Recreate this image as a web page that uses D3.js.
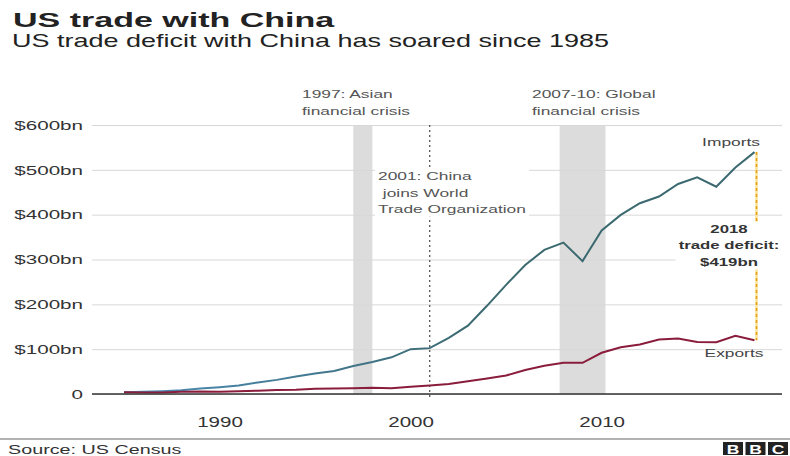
<!DOCTYPE html>
<html>
<head>
<meta charset="utf-8">
<script src="https://cdn.jsdelivr.net/npm/d3@7"></script>
<style>
  body { margin: 0; background: #fff; }
  text { font-family: "Liberation Sans", Arial, Helvetica, sans-serif; }
</style>
</head>
<body>
<script>
// US goods trade with China, $bn (US Census)
var years = d3.range(1985, 2019);
var imports = [3.9, 4.8, 6.3, 8.5, 12.0, 15.2, 19.0, 25.7, 31.5, 38.8, 45.5, 51.5, 62.6, 71.2, 81.8,
               100.0, 102.3, 125.2, 152.4, 196.7, 243.5, 287.8, 321.4, 337.8, 296.4, 364.9, 399.4,
               425.6, 440.4, 468.5, 483.2, 462.4, 505.2, 539.5];
var exports = [3.9, 3.1, 3.5, 5.0, 5.8, 4.8, 6.3, 7.4, 8.8, 9.3, 11.7, 12.0, 12.9, 14.2, 13.1,
               16.2, 19.2, 22.1, 28.4, 34.4, 41.2, 53.7, 62.9, 69.7, 69.5, 91.9, 104.1,
               110.5, 121.7, 123.7, 115.9, 115.6, 129.8, 120.1];
var yTicks = [0, 100, 200, 300, 400, 500, 600];
var xTicks = [1990, 2000, 2010];
var crises = [{start: 1997, end: 1998}, {start: 2007.8, end: 2010.2}];
var wtoYear = 2001;

var W = 790, H = 456;
var svg = d3.select("body").append("svg").attr("width", W).attr("height", H);

var x = d3.scaleLinear().domain([1985, 2018]).range([124, 754.5]);
var y = d3.scaleLinear().domain([0, 600]).range([394, 125]);

// the original artwork is set in a wide face, so stretch text horizontally
function stretch(t, f) {
  var x0 = +t.attr("x") || 0;
  t.attr("transform", "translate(" + x0 + ",0) scale(" + f + ",1) translate(" + (-x0) + ",0)");
  return t;
}

// titles
stretch(svg.append("text").attr("x", 13).attr("y", 27)
  .attr("font-size", 20.5).attr("font-weight", "bold").attr("fill", "#222")
  .text("US trade with China"), 1.66);
stretch(svg.append("text").attr("x", 12).attr("y", 47)
  .attr("font-size", 18).attr("fill", "#222")
  .text("US trade deficit with China has soared since 1985"), 1.5);

// crisis bands
svg.selectAll(".band").data(crises).enter().append("rect")
  .attr("x", function(d) { return x(d.start); })
  .attr("width", function(d) { return x(d.end) - x(d.start); })
  .attr("y", y(600)).attr("height", y(0) - y(600))
  .attr("fill", "#dcdcdc");

// y grid + labels
var yAxis = svg.append("g").attr("transform", "translate(92,0)")
  .call(d3.axisRight(y).tickValues(yTicks).tickSize(690)
    .tickFormat(function(d) { return d === 0 ? "0" : "$" + d + "bn"; }));
yAxis.select(".domain").remove();
yAxis.selectAll(".tick line").attr("stroke", "#d8d8d8");
yAxis.selectAll(".tick text").attr("x", -9).attr("text-anchor", "end")
  .attr("font-size", 13.3).attr("fill", "#333")
  .attr("font-family", "'Liberation Sans', Arial, sans-serif")
  .each(function() { stretch(d3.select(this), 1.55); });

// x labels
var xAxis = svg.append("g").attr("transform", "translate(0," + y(0) + ")")
  .call(d3.axisBottom(x).tickValues(xTicks).tickSize(0).tickFormat(d3.format("d")));
xAxis.select(".domain").remove();
xAxis.selectAll(".tick text").attr("dy", 0).attr("y", 33).attr("x", 0)
  .attr("font-size", 14.5).attr("fill", "#333")
  .attr("font-family", "'Liberation Sans', Arial, sans-serif")
  .each(function() { stretch(d3.select(this), 1.42); });

// WTO dotted line
svg.append("line").attr("x1", x(wtoYear)).attr("x2", x(wtoYear))
  .attr("y1", y(600)).attr("y2", y(0) + 3)
  .attr("stroke", "#555").attr("stroke-width", 1.3).attr("stroke-dasharray", "2,3");

// lines
var grad = svg.append("defs").append("linearGradient").attr("id", "impGrad")
  .attr("gradientUnits", "userSpaceOnUse")
  .attr("x1", x(1985)).attr("x2", x(2003)).attr("y1", 0).attr("y2", 0);
grad.append("stop").attr("offset", 0).attr("stop-color", "#4d8db8");
grad.append("stop").attr("offset", 1).attr("stop-color", "#3b6970");

var line = function(vals) {
  return d3.line().x(function(d, i) { return x(years[i]); }).y(function(d) { return y(d); })(vals);
};
svg.append("path").attr("d", line(imports)).attr("fill", "none")
  .attr("stroke", "url(#impGrad)").attr("stroke-width", 2);
svg.append("path").attr("d", line(exports)).attr("fill", "none")
  .attr("stroke", "#8a1c3c").attr("stroke-width", 2);

// zero line
svg.append("line").attr("x1", 92).attr("x2", 782).attr("y1", y(0)).attr("y2", y(0))
  .attr("stroke", "#333").attr("stroke-width", 1.5);

// deficit marker
var last = years.length - 1;
var dx = x(2018) + 2;
svg.append("line").attr("x1", dx).attr("x2", dx)
  .attr("y1", y(imports[last])).attr("y2", y(exports[last]))
  .attr("stroke", "#fbe8a6").attr("stroke-width", 3);
svg.append("line").attr("x1", dx).attr("x2", dx)
  .attr("y1", y(imports[last])).attr("y2", y(exports[last]))
  .attr("stroke", "#e59a1e").attr("stroke-width", 1.5).attr("stroke-dasharray", "3,3");

// annotations
function block(lines, x0, y0, opts) {
  var t = svg.append("text").attr("x", x0).attr("y", y0)
    .attr("font-size", opts.size || 11.5).attr("fill", opts.fill || "#555")
    .attr("font-weight", opts.weight || "normal")
    .attr("text-anchor", opts.anchor || "start");
  lines.forEach(function(s, i) {
    t.append("tspan").attr("x", x0).attr("dy", i === 0 ? 0 : (opts.lh || 16.7)).text(s);
  });
  var f = opts.f || 1.51;
  stretch(t, f);
  if (opts.back) {
    var b = t.node().getBBox();
    svg.insert("rect", function() { return t.node(); })
      .attr("x", x0 + (b.x - x0) * f - 3).attr("y", b.y - 1)
      .attr("width", b.width * f + 6).attr("height", b.height + 2)
      .attr("fill", "#fff");
  }
  return t;
}
block(["1997: Asian", "financial crisis"], 302, 98, {});
block(["2007-10: Global", "financial crisis"], 532, 98, {});
block(["2001: China", " joins World", "Trade Organization"], 378, 180, {back: true});
block(["Imports"], 760, 146, {anchor: "end", fill: "#444"});
block(["Exports"], 734, 357, {anchor: "middle", fill: "#444"});
block(["2018", "trade deficit:", "$419bn"], 729, 233, {anchor: "middle", weight: "bold", fill: "#333",
  f: 1.46, lh: 16.5, back: true});

// footer
svg.append("line").attr("x1", 0).attr("x2", W).attr("y1", 439).attr("y2", 439)
  .attr("stroke", "#999").attr("stroke-width", 1.5);
stretch(svg.append("text").attr("x", 8).attr("y", 454).attr("font-size", 13).attr("fill", "#333")
  .text("Source: US Census"), 1.52);
var bbc = svg.append("g").attr("transform", "translate(723,442)");
["B", "B", "C"].forEach(function(c, i) {
  bbc.append("rect").attr("x", i * 22.5).attr("y", 0).attr("width", 20).attr("height", 13).attr("fill", "#222");
  var cx = i * 22.5 + 10;
  stretch(bbc.append("text").attr("x", cx).attr("y", 11.5).attr("text-anchor", "middle")
    .attr("font-size", 12.5).attr("font-weight", "bold").attr("fill", "#fff").text(c), 1.4);
});
</script>
</body>
</html>
